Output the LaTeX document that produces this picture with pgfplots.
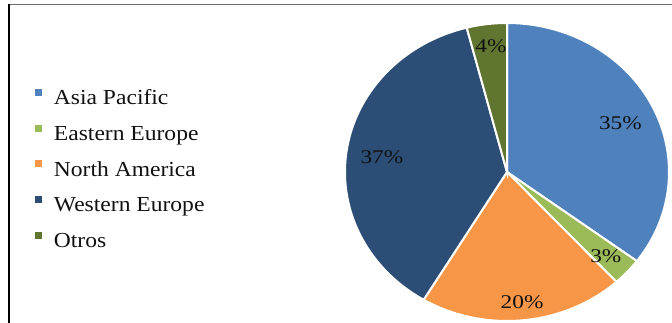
\documentclass[border=0pt]{standalone}
\usepackage{pgfplots}
\pgfplotsset{compat=1.18}
\usepackage{pgfplotstable}
\usepackage{fontspec}
\setmainfont{Liberation Serif}[FakeStretch=1.1]
\newfontfamily\labelfont{Liberation Serif}[FakeStretch=1.2]
\definecolor{cAP}{HTML}{4F81BD}
\definecolor{cEE}{HTML}{9BBB59}
\definecolor{cNA}{HTML}{F79646}
\definecolor{cWE}{HTML}{2C4D75}
\definecolor{cOT}{HTML}{5F7530}
\definecolor{txt}{HTML}{111111}

% shares in percent
\pgfplotstableread{
region share
AP 35.2
EE 3.0
NA 20.4
WE 37.4
OT 4.0
}\piedata

\begin{document}
\begin{tikzpicture}
\pgfplotstablegetelem{0}{share}\of\piedata \let\sA\pgfplotsretval
\pgfplotstablegetelem{1}{share}\of\piedata \let\sB\pgfplotsretval
\pgfplotstablegetelem{2}{share}\of\piedata \let\sC\pgfplotsretval
\pgfplotstablegetelem{3}{share}\of\piedata \let\sD\pgfplotsretval
\pgfplotstablegetelem{4}{share}\of\piedata \let\sE\pgfplotsretval
\pgfmathsetmacro\aO{90}
\pgfmathsetmacro\aA{\aO-3.6*\sA}
\pgfmathsetmacro\aB{\aA-3.6*\sB}
\pgfmathsetmacro\aC{\aB-3.6*\sC}
\pgfmathsetmacro\aD{\aC-3.6*\sD}
\pgfmathsetmacro\aE{\aD-3.6*\sE}
\begin{axis}[
  at={(507bp,151bp)}, anchor=origin,
  x=162bp, y=149bp,
  xmin=-1, xmax=1, ymin=-1, ymax=1,
  hide axis, clip=false,
  legend image code/.code={\fill[draw=none] (0bp,4bp) rectangle (7.5bp,11bp);},
  legend cell align=left,
  legend style={at={(-0.957,0.779)}, anchor=north west, draw=none, fill=none,
    inner sep=0pt, outer sep=0pt, row sep=14.7bp, column sep=11.5bp,
    font=\fontsize{21.5}{24}\selectfont, text=txt,
    nodes={inner sep=0pt, text height=15bp, text depth=5bp}},
]
\addplot[fill=cAP, draw=white, line width=2bp, domain=\aA:\aO, samples=80, variable=\t] ({cos(\t)},{sin(\t)}) -- (axis cs:0,0) -- cycle;
\addlegendentry{Asia Pacific}
\addplot[fill=cEE, draw=white, line width=2bp, domain=\aB:\aA, samples=10, variable=\t] ({cos(\t)},{sin(\t)}) -- (axis cs:0,0) -- cycle;
\addlegendentry{Eastern Europe}
\addplot[fill=cNA, draw=white, line width=2bp, domain=\aC:\aB, samples=60, variable=\t] ({cos(\t)},{sin(\t)}) -- (axis cs:0,0) -- cycle;
\addlegendentry{North America}
\addplot[fill=cWE, draw=white, line width=2bp, domain=\aD:\aC, samples=90, variable=\t] ({cos(\t)},{sin(\t)}) -- (axis cs:0,0) -- cycle;
\addlegendentry{Western Europe}
\addplot[fill=cOT, draw=white, line width=2bp, domain=\aE:\aD, samples=12, variable=\t] ({cos(\t)},{sin(\t)}) -- (axis cs:0,0) -- cycle;
\addlegendentry{Otros}
\begin{scope}[every node/.style={font=\labelfont\fontsize{19.5}{22}\selectfont, text=txt, inner sep=0pt}]
\node at (axis cs:0.70,0.33) {35\%};
\node at (axis cs:0.61,-0.564) {3\%};
\node at (axis cs:0.093,-0.872) {20\%};
\node at (axis cs:-0.772,0.10) {37\%};
\node at (axis cs:-0.099,0.846) {4\%};
\end{scope}
\end{axis}
\draw[gray!85!black, line width=1bp] (8bp,318bp) -- (672bp,318bp);
\draw[black, line width=1.2bp] (9bp,318.5bp) -- (9bp,0bp);
\pgfresetboundingbox
\path[use as bounding box] (0,0) rectangle (672bp,323bp);
\end{tikzpicture}
\end{document}
